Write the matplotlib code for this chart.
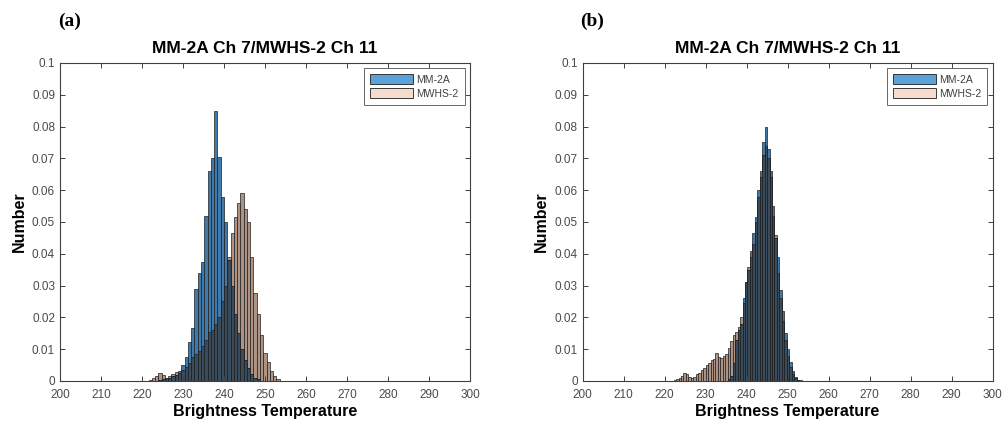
import numpy as np
import matplotlib
matplotlib.use("Agg")
import matplotlib.pyplot as plt
from matplotlib.patches import Patch

plt.rcParams['font.family'] = ['Liberation Sans', 'DejaVu Sans']

# panel (a): bins of 0.8 K starting at 221.6
a_start, a_width = 221.6, 0.8
a_mm2a = [0, 0, 0, 0.0003, 0.0005, 0.0008, 0.001, 0.0015, 0.002, 0.003,
          0.005, 0.0075, 0.0123, 0.0167, 0.029, 0.034, 0.0374, 0.052, 0.066, 0.070,
          0.085, 0.0705, 0.058, 0.050, 0.038, 0.030, 0.021, 0.015, 0.010, 0.0065,
          0.004, 0.0022, 0.001, 0.0005, 0, 0, 0, 0, 0, 0]
a_mwhs2 = [0.0003, 0.0008, 0.0015, 0.0025, 0.0018, 0.001, 0.0015, 0.0022, 0.0028, 0.0025,
           0.0035, 0.0045, 0.0055, 0.0075, 0.0085, 0.0095, 0.011, 0.013, 0.0155, 0.016,
           0.018, 0.020, 0.025, 0.030, 0.039, 0.0465, 0.0516, 0.056, 0.059, 0.054,
           0.050, 0.039, 0.0277, 0.021, 0.0146, 0.0088, 0.006, 0.003, 0.0015, 0.0005]

# panel (b): bins of 0.6 K starting at 221.0
b_start, b_width = 221.0, 0.6
b_mm2a = [0, 0, 0, 0, 0, 0, 0, 0, 0, 0,
          0, 0, 0, 0, 0, 0, 0, 0, 0, 0,
          0, 0, 0, 0, 0.0005, 0.0017, 0.0057, 0.013, 0.016, 0.018,
          0.026, 0.031, 0.035, 0.041, 0.0465, 0.0516, 0.060, 0.066, 0.075, 0.080,
          0.073, 0.066, 0.055, 0.045, 0.039, 0.0286, 0.022, 0.015, 0.010, 0.006,
          0.003, 0.0012, 0.0004, 0, 0]
b_mwhs2 = [0, 0, 0.0003, 0.0005, 0.0008, 0.0015, 0.0025, 0.0022, 0.0012, 0.0008,
           0.0012, 0.0022, 0.0025, 0.0035, 0.004, 0.005, 0.0058, 0.0065, 0.0068, 0.0088,
           0.0075, 0.0072, 0.008, 0.0085, 0.0105, 0.0125, 0.0145, 0.0155, 0.017, 0.020,
           0.0245, 0.031, 0.036, 0.039, 0.043, 0.050, 0.058, 0.064, 0.071, 0.074,
           0.070, 0.064, 0.052, 0.046, 0.034, 0.026, 0.019, 0.013, 0.008, 0.0045,
           0.0022, 0.001, 0.0004, 0.0002, 0]

series_names = ['MM-2A', 'MWHS-2']
title = 'MM-2A Ch 7/MWHS-2 Ch 11'
panel_tags = ['(a)', '(b)']

blue = '#4079ab'
tan = '#ad9383'
overlap = '#3a4b5c'
legend_blue = '#5aa2d8'
legend_tan = '#f6dccd'
edge = '#1e1e1e'

fig = plt.figure(figsize=(10.08, 4.30), dpi=100)
ax_a = fig.add_axes([0.0595, 0.114, 0.4067, 0.7395])
ax_b = fig.add_axes([0.578, 0.114, 0.4067, 0.7395])

panels = [(ax_a, a_start, a_width, a_mm2a, a_mwhs2),
          (ax_b, b_start, b_width, b_mm2a, b_mwhs2)]

for (ax, start, width, mm, mw), tag in zip(panels, panel_tags):
    edges = start + width * np.arange(len(mm))
    mm = np.array(mm)
    mw = np.array(mw)
    # semi-transparent look: each alone, then the shared part darker
    ax.bar(edges, mw, width=width, align='edge', color=tan,
           edgecolor=edge, linewidth=0.5)
    ax.bar(edges, mm, width=width, align='edge', color=blue,
           edgecolor=edge, linewidth=0.5)
    ax.bar(edges, np.minimum(mm, mw), width=width, align='edge', color=overlap,
           edgecolor=edge, linewidth=0.5)

    ax.set_xlim(200, 300)
    ax.set_ylim(0, 0.1)
    ax.set_xticks(np.arange(200, 301, 10))
    yt = np.arange(0, 0.101, 0.01)
    ax.set_yticks(yt)
    ax.set_yticklabels(['%g' % round(v, 2) for v in yt])
    ax.tick_params(direction='in', top=True, right=True, length=3.5, width=0.7,
                   labelsize=8.5, labelcolor='#4a4a4a', color='#404040')
    ax.tick_params(axis='x', pad=6)
    for s in ax.spines.values():
        s.set_color('#404040')
        s.set_linewidth(0.8)
    ax.set_title(title, fontsize=12.5, fontweight='bold', pad=7)
    ax.set_xlabel('Brightness Temperature', fontsize=11.5, fontweight='bold', labelpad=2)
    ax.set_ylabel('Number', fontsize=11.5, fontweight='bold', labelpad=4)

    handles = [Patch(facecolor=legend_blue, edgecolor=edge, linewidth=0.6),
               Patch(facecolor=legend_tan, edgecolor=edge, linewidth=0.6)]
    leg = ax.legend(handles, series_names, loc='upper right', fontsize=7.5,
                    handlelength=4.1, handleheight=1.0, fancybox=False,
                    borderaxespad=0.5, borderpad=0.6, labelspacing=0.35,
                    handletextpad=0.3)
    leg.get_frame().set_edgecolor('#404040')
    leg.get_frame().set_linewidth(0.7)
    for t in leg.get_texts():
        t.set_color('#404040')

    pos = ax.get_position()
    fig.text(pos.x0 - 0.002, 0.93, tag, family=['Liberation Serif', 'DejaVu Serif'],
             fontsize=14, fontweight='bold', ha='left', va='bottom')

fig.savefig('out.png', dpi=100)
